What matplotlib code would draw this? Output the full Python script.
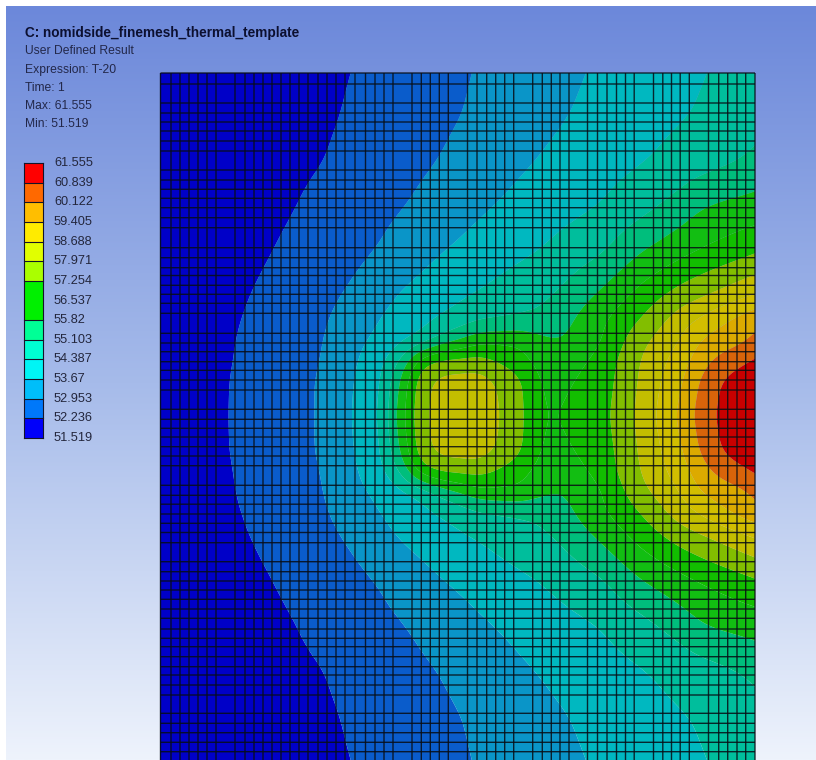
import numpy as np
import matplotlib
matplotlib.use("Agg")
import matplotlib.pyplot as plt
from matplotlib.colors import LinearSegmentedColormap

plt.rcParams['font.family'] = ['Liberation Sans', 'DejaVu Sans']

# ---- text ----
title = "C: nomidside_finemesh_thermal_template"
info_lines = ["User Defined Result", "Expression: T-20", "Time: 1", "Max: 61.555", "Min: 51.519"]

# ---- legend scale ----
level_values = [51.519, 52.236, 52.953, 53.67, 54.387, 55.103, 55.82, 56.537,
                57.254, 57.971, 58.688, 59.405, 60.122, 60.839, 61.555]
level_labels = ["51.519", "52.236", "52.953", "53.67", "54.387", "55.103", "55.82", "56.537",
                "57.254", "57.971", "58.688", "59.405", "60.122", "60.839", "61.555"]
legend_colors = ["#0000FA", "#0078FA", "#00BEFA", "#00F5F5", "#00FFD2", "#00FF96", "#00F000",
                 "#00F000", "#AAFF00", "#E1FF00", "#FFEB00", "#FFBE00", "#FF6900", "#FF0000"]
plot_colors = ["#0000C8", "#0A5CCB", "#0A95C8", "#00B8C0", "#00BE9C", "#00BE7C", "#12BE12",
               "#12BE00", "#82BE00", "#C3BE00", "#D2BE00", "#DCAA00", "#D9640A", "#C80000"]

# ---- field: position on the legend scale ----
col_x = [160, 200, 240, 280, 320, 360, 380, 400, 420, 440, 480, 520, 540, 560, 600, 640, 680, 700, 720, 740, 755]
row_y = [73, 115, 160, 205, 250, 295, 320, 340, 360, 380, 416, 452, 472, 492, 512, 537, 582, 627, 672, 717, 760]
r73  = [.2, .3, .4, .6, .8, 1.06, 1.23, 1.39, 1.56, 1.73, 2.07, 2.42, 2.6, 2.78, 3.12, 3.45, 3.78, 3.94, 4.11, 4.27, 4.4]
r115 = [.2, .3, .45, .65, .85, 1.15, 1.31, 1.48, 1.64, 1.81, 2.16, 2.54, 2.73, 2.92, 3.26, 3.59, 3.92, 4.08, 4.25, 4.42, 4.6]
r160 = [.25, .4, .55, .75, .96, 1.31, 1.49, 1.66, 1.84, 2.02, 2.43, 2.85, 3.04, 3.22, 3.57, 3.91, 4.33, 4.54, 4.76, 4.98, 5.2]
r205 = [.3, .45, .65, .85, 1.2, 1.56, 1.75, 1.93, 2.15, 2.38, 2.85, 3.25, 3.44, 3.62, 4.0, 4.62, 5.38, 5.88, 6.1, 6.25, 6.35]
r250 = [.35, .5, .7, 1.06, 1.45, 1.83, 2.05, 2.35, 2.65, 2.93, 3.37, 3.79, 4.0, 4.28, 4.83, 5.9, 6.65, 7.0, 7.28, 7.57, 7.8]
r295 = [.4, .55, .9, 1.3, 1.71, 2.25, 2.68, 3.06, 3.32, 3.58, 4.08, 4.58, 4.82, 5.12, 6.14, 7.33, 8.4, 8.8, 9.22, 9.67, 10.0]
r320 = [.42, .58, .99, 1.41, 1.84, 2.58, 3.03, 3.37, 3.71, 4.05, 4.85, 5.1, 5.2, 5.6, 6.83, 8.0, 9.57, 10.17, 10.83, 11.4, 11.8]
r340 = [.45, .6, 1.05, 1.48, 1.91, 2.86, 3.23, 3.66, 4.1, 5.2, 6.75, 6.9, 6.3, 5.95, 6.85, 8.7, 10.0, 11.05, 11.4, 11.75, 12.1]
r360 = [.48, .62, 1.08, 1.52, 1.96, 3.05, 3.68, 5.0, 7.6, 8.3, 8.35, 7.25, 6.65, 6.4, 7.3, 9.0, 10.5, 11.5, 12.3, 12.7, 13.1]
r380 = [.5, .67, 1.12, 1.57, 2.05, 3.17, 3.83, 6.0, 8.6, 9.3, 9.5, 8.2, 6.9, 6.8, 7.4, 9.1, 10.8, 12.1, 13.0, 13.5, 13.9]
r416 = [.5, .68, 1.13, 1.59, 2.05, 3.25, 4.0, 6.5, 8.75, 9.4, 9.7, 8.3, 7.0, 7.0, 7.6, 9.25, 11.2, 12.4, 13.2, 13.7, 14.0]
# the field is symmetric about the hot spot's row
field_rows = [r73, r115, r160, r205, r250, r295, r320, r340, r360, r380, r416,
              r380, r360, r340, r320, r295, r250, r205, r160, r115, r73]

# ---- mesh lines ----
mesh_x = [160.5, 171, 180, 189, 198, 207, 216, 235, 245, 254, 263, 272, 281, 290, 299, 308, 318, 327, 336, 345,
          355, 365.5, 375, 384, 393, 412, 421.3, 430.3, 439.3, 448.3, 467.5, 477, 486.7, 495.7, 504.7, 513.7,
          532.7, 542.3, 551.3, 560, 569, 587.5, 597.5, 607, 616.5, 625.5, 634.2, 653.5, 662.8, 671.5, 680.2,
          689.3, 708.5, 718.7, 727.7, 737, 745.7, 755]
mesh_y = [73, 84, 103, 113, 122, 131, 141, 151, 170, 180, 189.3, 198.3, 207.7, 217.7, 227.7, 247.7, 257.7, 267.7,
          275.5, 285.3, 294.3, 303.3, 313.3, 333.3, 343, 351.7, 361.7, 370.3, 380, 390, 409.3, 419.3, 428.3, 437,
          446.7, 456, 465.7, 485.3, 495.3, 504.2, 514, 523.3, 532.5, 542.7, 561.7, 571.7, 581, 590, 599.3, 609,
          618.3, 629, 638.3, 646.7, 656.7, 666.7, 675, 685, 695, 713.3, 723.3, 732.7, 742.3, 751.7]


def resample(table, old, new, axis):
    return np.apply_along_axis(lambda v: np.interp(new, old, v), axis, table)


def soften(table, half, axis):
    kernel = np.hanning(2 * half + 3)[1:-1]
    kernel /= kernel.sum()
    pad = [(0, 0), (0, 0)]
    pad[axis] = (half, half)
    padded = np.pad(table, pad, mode="reflect", reflect_type="odd")
    return np.apply_along_axis(lambda v: np.convolve(v, kernel, mode="valid"), axis, padded)


fig = plt.figure(figsize=(8.16, 7.6), dpi=100, facecolor="white")
ax = fig.add_axes([0, 0, 1, 1])
ax.axis("off")

# background gradient
bg = LinearSegmentedColormap.from_list("bg", ["#6C88DA", "#A6BBEA", "#EEF3FC"])
ax.imshow(np.linspace(0, 1, 256).reshape(-1, 1), cmap=bg, aspect="auto",
          extent=[6, 816, 760, 6], zorder=0)

# contour field: rounded off between the read nodes, as the isotherms are smooth
fine_x = np.linspace(col_x[0], col_x[-1], 298)
fine_y = np.linspace(row_y[0], row_y[-1], 344)
band_pos = resample(resample(np.array(field_rows, dtype=float), row_y, fine_y, 0), col_x, fine_x, 1)
band_pos = soften(soften(band_pos, 11, 0), 9, 1)
band_pos = np.clip(band_pos, 0, len(level_values) - 1)
temperature = np.interp(band_pos, np.arange(len(level_values)), level_values)
ax.contourf(fine_x, fine_y, temperature, levels=level_values, colors=plot_colors, zorder=1, antialiased=True)

# mesh
mesh_color = (0.03, 0.05, 0.08, 0.85)
ax.vlines(mesh_x, 73, 760, colors=[mesh_color], linewidth=1.0, zorder=2, snap=False)
ax.hlines(mesh_y, 160.5, 755, colors=[mesh_color], linewidth=1.0, zorder=2, snap=False)

# legend
n = len(level_values)
legend_y = np.linspace(438, 163, n)
for i, col in enumerate(legend_colors):
    ax.fill_between([24, 43], legend_y[i], legend_y[i + 1], color=col, linewidth=0, zorder=3)
for i in range(n):
    at_green = 0 < i < n - 1 and legend_colors[i - 1] == legend_colors[i]
    if not at_green:
        ax.plot([24, 43], [legend_y[i]] * 2, color="#141428", lw=0.8, zorder=4)
    ax.text(54, legend_y[i], level_labels[i], fontsize=9.2, color="#23263C", va="center", ha="left", zorder=4)
ax.plot([24, 24], [163, 438], color="#141428", lw=0.8, zorder=4)
ax.plot([43, 43], [163, 438], color="#141428", lw=0.8, zorder=4)

# header
ax.text(25, 33, title, fontsize=9.85, fontweight="bold", color="#0C1030", va="center", ha="left")
for yy, line in zip([51, 70, 88, 106, 124], info_lines):
    ax.text(25, yy, line, fontsize=8.7, color="#23284A", va="center", ha="left")

ax.set_xlim(0, 816)
ax.set_ylim(760, 0)
fig.savefig("out.png", dpi=100, facecolor="white")
